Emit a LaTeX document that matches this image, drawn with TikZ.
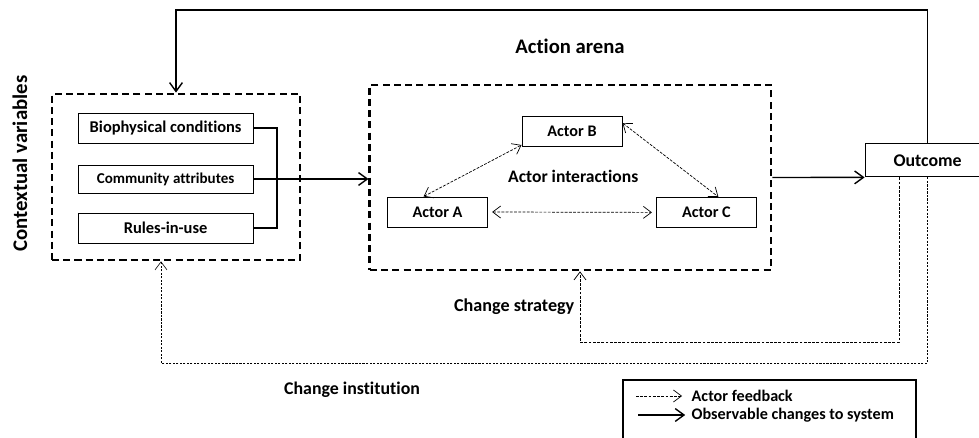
\documentclass[tikz,border=0pt]{standalone}
\usepackage{fontspec}
\setmainfont{Carlito}[Ligatures=NoCommon]
\usetikzlibrary{positioning}
\usetikzlibrary{arrows.meta}

\tikzset{
  arenabox/.style={draw, line width=2pt, dash pattern=on 5pt off 3pt, inner sep=0pt},
  varbox/.style={draw, line width=0.7pt, minimum height=0.75cm, minimum width=4.375cm, inner sep=0pt, font=\bfseries\fontsize{11.7}{13}\selectfont},
  actorbox/.style={draw, line width=0.7pt, minimum height=0.75cm, minimum width=2.5cm, inner sep=0pt, font=\bfseries\fontsize{11.5}{13}\selectfont},
  lbl/.style={font=\bfseries\fontsize{11.5}{13}\selectfont, inner sep=1pt},
  sys/.style={line width=1pt, -{Straight Barb[length=2.2mm, width=3.2mm]}},
  fb/.style={line width=0.5pt, dash pattern=on 2pt off 1pt, -{Straight Barb[length=2mm, width=3mm]}},
  fbboth/.style={fb, {Straight Barb[length=2mm, width=3mm]}-{Straight Barb[length=2mm, width=3mm]}},
}

\begin{document}
\begin{tikzpicture}
  \useasboundingbox (0,0) rectangle (24.475,-10.95);

  % contextual variables
  \node[arenabox, minimum width=6.2cm, minimum height=4.15cm] (ctx) at (4.4,-4.425) {};
  \node[varbox] (bio) at (4.14,-3.2) {Biophysical conditions};
  \node[varbox, minimum height=0.7cm, font=\bfseries\fontsize{10.7}{12}\selectfont] (comm) at (4.14,-4.475) {Community attributes};
  \node[varbox] (rules) at (4.14,-5.7) {Rules-in-use};
  \node[lbl, rotate=90, font=\bfseries\fontsize{14.8}{16}\selectfont] (ctxlabel) at (0.5,-4.09) {Contextual variables};

  % action arena
  \node[arenabox, minimum width=10.025cm, minimum height=4.625cm] (arena) at (14.26,-4.4375) {};
  \node[lbl, font=\bfseries\fontsize{14.7}{16}\selectfont] (arenalabel) at (14.25,-1.17) {Action arena};
  \node[actorbox] (actorB) at (14.3,-3.275) {Actor B};
  \node[actorbox] (actorA) at (10.94,-5.3) {Actor A};
  \node[actorbox] (actorC) at (17.66,-5.31) {Actor C};
  \node[lbl, font=\bfseries\fontsize{12.5}{14}\selectfont] (interact) at (14.33,-4.4) {Actor interactions};

  % outcome
  \node[varbox, minimum width=3.125cm, minimum height=0.825cm, font=\bfseries\fontsize{12.7}{14}\selectfont] (outcome) at (23.19,-4.01) {Outcome};

  % links between the boxes
  \coordinate (brk) at (6.925,-4.475);
  \draw[line width=1pt] (bio.east) -| (brk) |- (rules.east);
  \draw[sys] (comm.east) -- (comm.east -| arena.west);
  \draw[sys] (arena.east) -- (outcome.south west);
  \draw[fbboth] ([xshift=-0.35cm]actorA.north) -- ([yshift=-0.35cm]actorB.west);
  \draw[fbboth] ([yshift=0.2cm]actorB.east) -- ([xshift=0.3cm]actorC.north);
  \draw[fbboth] ([xshift=0.1cm]actorA.east) -- ([xshift=-0.1cm]actorC.west);

  % feedback loops
  \coordinate (topline) at (0,-0.25);
  \draw[sys] (outcome.north) -- (outcome.north |- topline) -| (ctx.north);
  \coordinate (strat) at (14.5,-8.55);
  \draw[fb] ([xshift=-7.1mm]outcome.south) |- (strat) -- (strat |- arena.south);
  \node[lbl, anchor=east, font=\bfseries\fontsize{12.9}{14}\selectfont] (stratlabel) at (14.4,-7.675) {Change strategy};
  \coordinate (inst) at (4.025,-9.075);
  \draw[fb, line width=0.4pt, dash pattern=on 1.5pt off 1pt] (outcome.south) |- (inst) -- (inst |- ctx.south);
  \node[lbl, font=\bfseries\fontsize{12.7}{14}\selectfont] (instlabel) at (8.8,-9.75) {Change institution};

  % key
  \draw[line width=2pt] (15.575,-9.5) rectangle (22.9,-10.98);
  \node[lbl, anchor=west] (fbkey) at (17.25,-9.9) {Actor feedback};
  \node[lbl, anchor=west] (syskey) at (17.25,-10.375) {Observable changes to system};
  \draw[fb] ([xshift=-1.35cm]fbkey.west) -- ([xshift=-0.2cm]fbkey.west);
  \draw[sys] ([xshift=-1.3cm]syskey.west) -- ([xshift=-0.12cm]syskey.west);
\end{tikzpicture}
\end{document}
